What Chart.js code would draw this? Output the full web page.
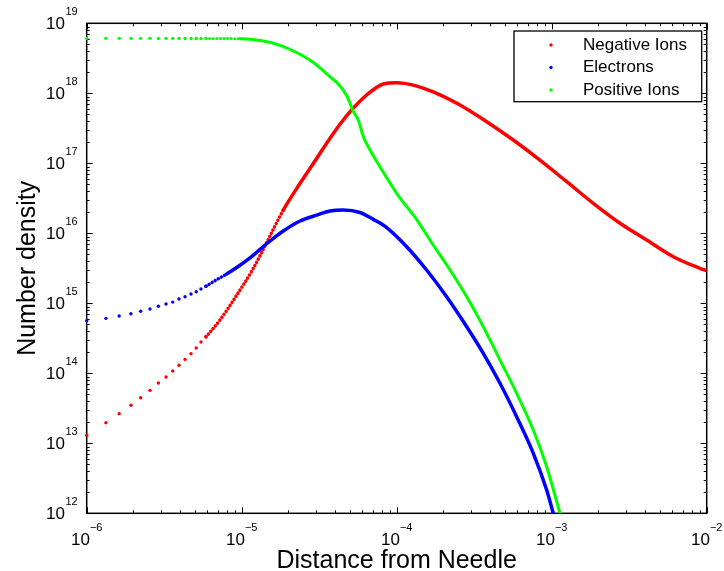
<!DOCTYPE html>
<html>
<head>
<meta charset="utf-8">
<title>Number density vs distance</title>
<script src="https://cdn.jsdelivr.net/npm/chart.js@4/dist/chart.umd.min.js"></script>
<style>
  html, body { margin: 0; padding: 0; background: #fff; }
</style>
</head>
<body>
<canvas id="densityChart" width="724" height="571"></canvas>
<script>
// left part of the x grid: here each dot stands on its own
const dotX = [1.0e-6, 1.33e-6, 1.62e-6, 1.93e-6, 2.23e-6, 2.56e-6, 2.90e-6, 3.25e-6,
              3.59e-6, 3.94e-6, 4.31e-6, 4.71e-6, 5.09e-6, 5.46e-6, 5.88e-6];
const negDots = [1.30e13, 1.97e13, 2.65e13, 3.49e13, 4.48e13, 5.71e13, 7.27e13, 8.85e13,
                 1.08e14, 1.30e14, 1.58e14, 1.91e14, 2.30e14, 2.80e14, 3.33e14];
const eleDots = [5.64e14, 6.10e14, 6.59e14, 7.10e14, 7.69e14, 8.29e14, 9.06e14, 9.77e14,
                 1.04e15, 1.15e15, 1.24e15, 1.36e15, 1.46e15, 1.60e15, 1.75e15];
const posDots = [6.10e18, 6.10e18, 6.10e18, 6.10e18, 6.10e18, 6.10e18, 6.09e18, 6.09e18,
                 6.09e18, 6.08e18, 6.08e18, 6.08e18, 6.07e18, 6.07e18, 6.06e18];

// right part: dots run together into a solid curve
const negX = [7.24e-6, 8.92e-6, 1.188e-5, 1.45e-5, 1.855e-5, 2.38e-5, 3.05e-5, 3.90e-5, 4.99e-5,
              6.40e-5, 8.19e-5, 1.0e-4, 1.28e-4, 1.72e-4, 2.56e-4, 3.81e-4, 5.65e-4, 8.40e-4,
              1.25e-3, 1.855e-3, 2.76e-3, 4.10e-3, 6.09e-3, 9.05e-3, 1.0e-2];
const negY = [5.77e14, 1.14e15, 3.16e15, 7.40e15, 2.15e16, 5.18e16, 1.18e17, 2.67e17, 5.41e17,
              9.46e17, 1.36e18, 1.42e18, 1.31e18, 1.05e18, 6.81e17, 3.93e17, 2.15e17, 1.11e17,
              5.46e16, 2.68e16, 1.39e16, 8.02e15, 4.63e15, 3.16e15, 2.92e15];

const eleX = [6.56e-6, 8.0e-6, 9.75e-6, 1.131e-5, 1.523e-5, 1.855e-5, 2.38e-5, 3.05e-5, 3.71e-5,
              4.52e-5, 5.80e-5, 7.06e-5, 8.62e-5, 1.16e-4, 1.56e-4, 2.10e-4, 2.83e-4, 3.62e-4,
              4.64e-4, 5.94e-4, 7.61e-4, 9.28e-4, 1.024e-3];
const eleY = [2.04e15, 2.62e15, 3.49e15, 4.44e15, 7.76e15, 1.08e16, 1.50e16, 1.82e16, 2.08e16,
              2.15e16, 1.98e16, 1.58e16, 1.21e16, 6.44e15, 2.99e15, 1.24e15, 4.63e14, 1.93e14,
              7.2e13, 2.4e13, 7.2e12, 2.15e12, 1.0e12];

const posX = [7.24e-6, 9.75e-6, 1.378e-5, 1.767e-5, 2.26e-5, 2.90e-5, 3.71e-5, 4.10e-5, 4.52e-5,
              4.87e-5, 5.25e-5, 5.65e-5, 6.09e-5, 6.73e-5, 7.80e-5, 1.0e-4, 1.35e-4, 1.72e-4,
              2.21e-4, 2.83e-4, 3.62e-4, 4.64e-4, 5.94e-4, 7.61e-4, 9.28e-4, 1.131e-3];
const posY = [6.06e18, 6.01e18, 5.58e18, 4.85e18, 3.83e18, 2.76e18, 1.73e18, 1.43e18, 1.11e18,
              8.30e17, 5.5e17, 4.16e17, 2.40e17, 1.55e17, 8.94e16, 3.73e16, 1.55e16, 6.81e15,
              2.99e15, 1.24e15, 4.63e14, 1.55e14, 5.18e13, 1.55e13, 4.63e12, 1.0e12];

const xExponents = [-6, -5, -4, -3, -2];
const yExponents = [12, 13, 14, 15, 16, 17, 18, 19];

const FONT = '"Liberation Sans", Arial, Helvetica, sans-serif';

function makePoints(xs, ys) {
    return xs.map((x, i) => ({ x: x, y: ys[i] }));
}

// beadX: up to here the dots are still visible one by one along the curve
function series(label, color, xs, ys, width, order, beadX) {
    return {
        label: label,
        data: makePoints(xs, ys),
        order: order,
        showLine: true,
        borderColor: color,
        backgroundColor: color,
        borderWidth: width,
        borderCapStyle: 'round',
        cubicInterpolationMode: 'monotone',
        clip: { left: 4, top: 4, right: 0, bottom: 0 },
        pointRadius: ctx => ctx.dataIndex < dotX.length ? 1.7 : 0,
        pointBorderWidth: 0,
        segment: {
            // no line between the separate dots on the left
            borderColor: ctx => ctx.p1DataIndex < dotX.length ? 'rgba(0,0,0,0)' : undefined,
            borderDash: ctx => ctx.p1.parsed.x <= beadX ? [0.01, 3.6] : undefined
        }
    };
}

function drawFrame(chart) {
    const { ctx, chartArea: a, scales } = chart;
    const xs = scales.x, ys = scales.y;
    ctx.save();
    ctx.strokeStyle = '#000';
    ctx.lineWidth = 1;

    // inward ticks on all four sides
    ctx.beginPath();
    for (let k = -6; k <= -2; k++) {
        for (let m = 1; m <= 9; m++) {
            const v = m * Math.pow(10, k);
            if (v > 1e-2 * 1.0001) break;
            const px = Math.round(xs.getPixelForValue(v)) + 0.5;
            const len = m === 1 ? 6 : 3;
            ctx.moveTo(px, a.bottom); ctx.lineTo(px, a.bottom - len);
            ctx.moveTo(px, a.top); ctx.lineTo(px, a.top + len);
        }
    }
    for (let k = 12; k <= 19; k++) {
        for (let m = 1; m <= 9; m++) {
            const v = m * Math.pow(10, k);
            if (v > 1e19 * 1.0001) break;
            const py = Math.round(ys.getPixelForValue(v)) + 0.5;
            const len = m === 1 ? 6 : 3;
            ctx.moveTo(a.left, py); ctx.lineTo(a.left + len, py);
            ctx.moveTo(a.right, py); ctx.lineTo(a.right - len, py);
        }
    }
    ctx.stroke();

    ctx.lineWidth = 1.5;
    ctx.strokeRect(a.left, a.top, a.right - a.left, a.bottom - a.top);
    ctx.restore();
}

function drawLabels(chart) {
    const { ctx, chartArea: a, scales } = chart;
    const xs = scales.x, ys = scales.y;
    ctx.save();
    ctx.fillStyle = '#000';
    const baseFont = '17px ' + FONT;
    const expFont = '11px ' + FONT;

    // x tick labels, centred on the tick
    xExponents.forEach(k => {
        const px = xs.getPixelForValue(Math.pow(10, k));
        const exp = '\u2212' + Math.abs(k);
        ctx.font = baseFont;
        const w1 = ctx.measureText('10').width;
        ctx.font = expFont;
        const w2 = ctx.measureText(exp).width;
        const x0 = px - (w1 + w2) / 2;
        ctx.textAlign = 'left';
        ctx.textBaseline = 'alphabetic';
        ctx.font = baseFont;
        ctx.fillText('10', x0, a.bottom + 32);
        ctx.font = expFont;
        ctx.fillText(exp, x0 + w1, a.bottom + 18);
    });

    // y tick labels, right aligned next to the axis
    yExponents.forEach(k => {
        const py = ys.getPixelForValue(Math.pow(10, k));
        const exp = String(k);
        ctx.textAlign = 'right';
        ctx.textBaseline = 'alphabetic';
        ctx.font = expFont;
        const w2 = ctx.measureText(exp).width;
        const right = a.left - 9;
        ctx.fillText(exp, right, py - 8.5);
        ctx.font = baseFont;
        ctx.fillText('10', right - w2 - 0.5, py + 6);
    });

    // axis titles
    ctx.font = '25px ' + FONT;
    ctx.textAlign = 'center';
    ctx.textBaseline = 'alphabetic';
    ctx.fillText('Distance from Needle', (a.left + a.right) / 2, 568);
    ctx.save();
    ctx.translate(35, (a.top + a.bottom) / 2);
    ctx.rotate(-Math.PI / 2);
    ctx.fillText('Number density', 0, 0);
    ctx.restore();

    // legend box in the upper right corner
    const bx = 514, by = 31, bw = a.right - 5 - bx, bh = 70.7;
    ctx.fillStyle = '#fff';
    ctx.fillRect(bx, by, bw, bh);
    ctx.lineWidth = 1.3;
    ctx.strokeStyle = '#000';
    ctx.strokeRect(bx, by, bw, bh);
    ctx.font = '17px ' + FONT;
    ctx.textAlign = 'left';
    ctx.textBaseline = 'middle';
    chart.data.datasets.forEach((ds, i) => {
        const ry = 45 + i * 22.5;
        ctx.fillStyle = ds.borderColor;
        ctx.beginPath();
        ctx.arc(551, ry, 1.7, 0, Math.PI * 2);
        ctx.fill();
        ctx.fillStyle = '#000';
        ctx.fillText(ds.label, 583, ry);
    });
    ctx.restore();
}

// matplotlib-like frame, ticks, labels and legend
const axesFrame = {
    id: 'axesFrame',
    beforeDatasetsDraw(chart) { drawFrame(chart); },
    afterDatasetsDraw(chart) { drawLabels(chart); }
};

const ctx = document.getElementById('densityChart').getContext('2d');
const densityChart = new Chart(ctx, {
    type: 'scatter',
    data: {
        datasets: [
            series('Negative Ions', '#ff0000', dotX.concat(negX), negDots.concat(negY), 3.5, 3, 1.9e-5),
            series('Electrons', '#0000ff', dotX.concat(eleX), eleDots.concat(eleY), 3.5, 2, 9.0e-6),
            series('Positive Ions', '#00ff00', dotX.concat(posX), posDots.concat(posY), 3, 1, 1.0e-5)
        ]
    },
    options: {
        responsive: false,
        animation: false,
        events: [],
        layout: { padding: { left: 86.7, right: 17.3, top: 23.3, bottom: 57.7 } },
        plugins: { legend: { display: false }, tooltip: { enabled: false } },
        scales: {
            x: {
                type: 'logarithmic', min: 1e-6, max: 1e-2,
                ticks: { display: false },
                grid: { display: false, drawTicks: false },
                border: { display: false }
            },
            y: {
                type: 'logarithmic', min: 1e12, max: 1e19,
                ticks: { display: false },
                grid: { display: false, drawTicks: false },
                border: { display: false }
            }
        }
    },
    plugins: [axesFrame]
});
</script>
</body>
</html>
